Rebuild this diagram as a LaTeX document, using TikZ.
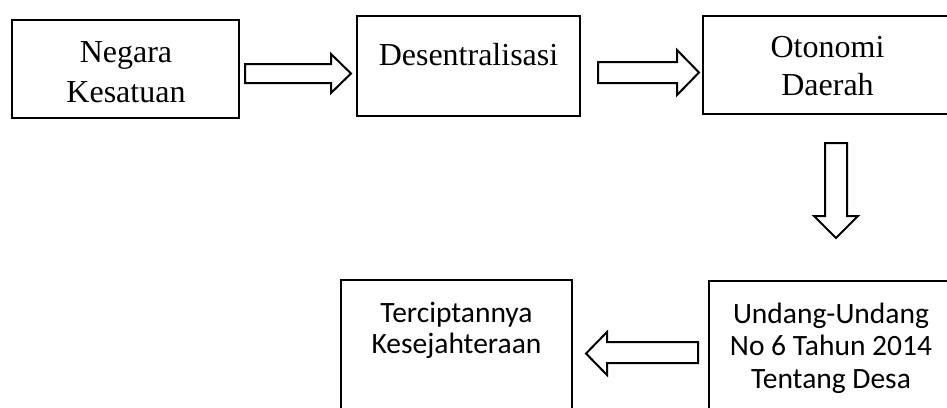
\documentclass[tikz,border=0pt]{standalone}
\usepackage{fontspec}
\setmainfont{Liberation Serif}
\newfontfamily\calib{Carlito}
\begin{document}
\begin{tikzpicture}[x=1pt,y=-1pt,
  box/.style={draw=black,line width=2.4pt,inner sep=0pt,minimum width=#1},
  serifline/.style={anchor=base,inner sep=0pt,font=\fontsize{32}{37}\selectfont},
  sansline/.style={anchor=base,inner sep=0pt,font=\calib\fontsize{29.5}{35}\selectfont},
  blockarrow/.style={draw=black,line width=2pt,line join=miter,fill=white}]
\useasboundingbox (0,0) rectangle (947,407);
\clip (0,0) rectangle (947,407);
% boxes
\node[box=227pt,minimum height=98pt] (b1) at (125.5,69) {};
\node[box=223pt,minimum height=100pt] (b2) at (468.5,66) {};
\node[box=249pt,minimum height=98pt] (b3) at (827.5,65) {};
\node[box=231pt,minimum height=140pt] (b4) at (456.5,350) {};
\node[box=244pt,minimum height=140pt] (b5) at (831,351) {};
% texts
\node[serifline] (t1a) at (126,62) {Negara};
\node[serifline] (t1b) at (126,102) {Kesatuan};
\node[serifline] (t2a) at (468.5,65) {Desentralisasi};
\node[serifline] (t3a) at (827.5,57) {Otonomi};
\node[serifline] (t3b) at (827.5,95) {Daerah};
\node[sansline] (t4a) at (456.5,322) {Terciptannya};
\node[sansline] (t4b) at (456.5,353) {Kesejahteraan};
\node[sansline] (t5a) at (831,323) {Undang-Undang};
\node[sansline] (t5b) at (831,355) {No 6 Tahun 2014};
\node[sansline] (t5c) at (831,388) {Tentang Desa};
% block arrows
\draw[blockarrow] (245,64) -- (331,64) -- (331,54) -- (351,73.5) -- (331,93) -- (331,83) -- (245,83) -- cycle;
\draw[blockarrow] (598,62) -- (677,62) -- (677,50) -- (699,72.5) -- (677,95) -- (677,83) -- (598,83) -- cycle;
\draw[blockarrow] (825,143) -- (847,143) -- (847,216) -- (858,216) -- (836,238) -- (814,216) -- (825,216) -- cycle;
\draw[blockarrow] (698,342) -- (607,342) -- (607,332) -- (586,353.5) -- (607,375) -- (607,363) -- (698,363) -- cycle;
\end{tikzpicture}
\end{document}
